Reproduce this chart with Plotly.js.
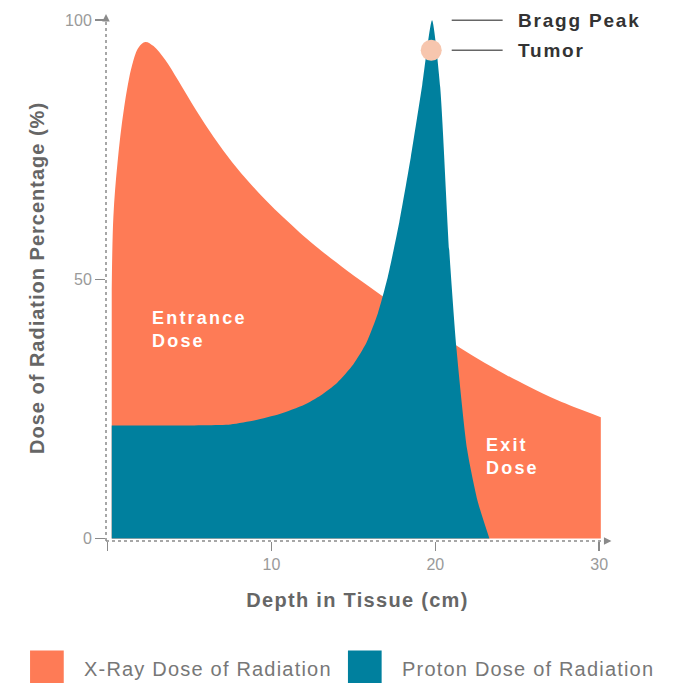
<!DOCTYPE html>
<html>
<head>
<meta charset="utf-8">
<script src="https://cdn.plot.ly/plotly-3.0.1.min.js"></script>
<style>
html,body{margin:0;padding:0;background:#fff;}
#chart{width:673px;height:683px;}
#chart .xtitle{letter-spacing:1.3px;}
#chart .ytitle{letter-spacing:1.0px;}
#chart g.annotation[data-index="3"] text,
#chart g.annotation[data-index="5"] text{letter-spacing:1.8px;}
#chart g.annotation[data-index="6"] text,
#chart g.annotation[data-index="7"] text{letter-spacing:2.2px;}
#chart g.annotation[data-index="8"] text,
#chart g.annotation[data-index="9"] text{letter-spacing:1.2px;}
</style>
</head>
<body>
<div id="chart"></div>
<script>
// Depth in tissue (cm) and dose (%)
const xrayDepth = [0.25, 0.35, 0.6, 1.0, 1.5, 1.9, 2.3, 2.8, 3.5, 4.3, 5.4, 6.5, 7.6, 8.7, 9.7, 10.7, 11.7, 12.7, 14.6, 16.4, 18.0, 19.8, 21.5, 23.0, 24.3, 25.7, 27.5, 30.1];
const xrayDose  = [48, 62, 72.4, 83, 91.4, 94.8, 95.8, 95, 92.4, 88.4, 82.6, 77.3, 72.6, 68.5, 65.1, 62.0, 59.1, 56.4, 51.7, 47.6, 44.1, 40.3, 36.8, 33.9, 31.6, 29.3, 26.6, 23.4];

const protonDepth = [0.25, 4, 7.5, 9.0, 10.5, 12.0, 13.0, 14.0, 15.0, 15.8, 16.5, 17.1, 17.8, 18.5, 19.2, 19.8, 20.3, 20.85, 21.3, 21.95, 22.6, 23.3];
const protonDose  = [21.8, 21.8, 22.0, 22.8, 24.0, 25.8, 27.6, 30.0, 33.6, 37.8, 43.5, 50.5, 61, 73.5, 87.5, 100, 87, 55.6, 36.3, 17, 7, 0];

const tumorDepth = [19.75];
const tumorDose = [94.2];

const xTicks = [0, 10, 20, 30];
const xTickText = ['', '10', '20', '30'];
const yTicks = [0, 50, 100];

const seriesNames = ['X-Ray Dose of Radiation', 'Proton Dose of Radiation'];
const orange = '#FE7B56';
const teal = '#00809E';
const FONT = 'Liberation Sans, Arial, Helvetica, sans-serif';

// Bragg peak from data
let pk = 0;
protonDose.forEach((v, i) => { if (v > protonDose[pk]) pk = i; });
const peakX = protonDepth[pk], peakY = protonDose[pk];

const traces = [
  {x: xrayDepth, y: xrayDose, type: 'scatter', mode: 'lines', fill: 'tozeroy',
   fillcolor: orange, line: {color: orange, width: 0, shape: 'spline', smoothing: 1},
   name: seriesNames[0], showlegend: false, hoverinfo: 'skip'},
  {x: protonDepth, y: protonDose, type: 'scatter', mode: 'lines', fill: 'tozeroy',
   fillcolor: teal, line: {color: teal, width: 0, shape: 'spline', smoothing: 0.6},
   name: seriesNames[1], showlegend: false, hoverinfo: 'skip'},
  {x: tumorDepth, y: tumorDose, type: 'scatter', mode: 'markers',
   marker: {size: 21, color: '#F7C6AE'}, name: 'Tumor', showlegend: false, hoverinfo: 'skip'}
];

const gray = '#8a8a8a';
const layout = {
  width: 673, height: 683,
  margin: {l: 106, r: 64, t: 15, b: 142},
  paper_bgcolor: '#fff', plot_bgcolor: '#fff',
  font: {family: FONT},
  showlegend: false,
  xaxis: {
    range: [-0.1, 30.6], showgrid: false, zeroline: false, showline: false,
    tickvals: xTicks, ticktext: xTickText, ticks: 'outside', ticklen: 9, tickwidth: 1.5, tickcolor: gray,
    tickfont: {size: 16, color: '#9a9a9a', family: FONT}, ticklabelstandoff: 0,
    title: {text: 'Depth in Tissue (cm)', font: {size: 20, color: '#666', family: FONT, weight: 'bold'}, standoff: 20},
    fixedrange: true
  },
  yaxis: {
    range: [-0.5, 101], showgrid: false, zeroline: false, showline: false,
    tickvals: yTicks, ticks: 'outside', ticklen: 10, tickwidth: 1.5, tickcolor: gray,
    tickfont: {size: 16, color: '#9a9a9a', family: FONT},
    title: {text: 'Dose of Radiation Percentage (%)', font: {size: 20, color: '#666', family: FONT, weight: 'bold'}, standoff: 15},
    fixedrange: true
  },
  shapes: [
    {type: 'line', xref: 'paper', yref: 'paper', x0: 0, x1: 0, y0: 0, y1: 1, line: {color: gray, width: 1.5, dash: 'dot'}, layer: 'below'},
    {type: 'line', xref: 'paper', yref: 'paper', x0: 0, x1: 0.995, y0: 0, y1: 0, line: {color: gray, width: 1.5, dash: 'dot'}, layer: 'above'},
    // legend swatches
    {type: 'rect', xref: 'paper', yref: 'paper', x0: -0.151, x1: -0.084, y0: -0.208, y1: -0.29, fillcolor: orange, line: {width: 0}},
    {type: 'rect', xref: 'paper', yref: 'paper', x0: 0.481, x1: 0.548, y0: -0.208, y1: -0.29, fillcolor: teal, line: {width: 0}}
  ],
  annotations: [
    // axis arrowheads
    {x: -0.1, y: 101.2, ax: -0.1, ay: 99.5, xref: 'x', yref: 'y', axref: 'x', ayref: 'y', text: '', showarrow: true, arrowhead: 2, arrowsize: 1, arrowwidth: 1.5, arrowcolor: gray},
    {x: 30.75, y: -0.5, ax: 30.2, ay: -0.5, xref: 'x', yref: 'y', axref: 'x', ayref: 'y', text: '', showarrow: true, arrowhead: 2, arrowsize: 1, arrowwidth: 1.5, arrowcolor: gray},
    // Bragg peak / tumor callouts
    {x: peakX + 1.2, y: peakY, ax: peakX + 4.4, ay: peakY, xref: 'x', yref: 'y', axref: 'x', ayref: 'y', text: '', showarrow: true, arrowhead: 0, arrowwidth: 1.5, arrowcolor: '#666'},
    {x: peakX + 5.1, y: peakY, xref: 'x', yref: 'y', xanchor: 'left', yanchor: 'middle', align: 'left', text: 'Bragg Peak', showarrow: false, font: {size: 19, color: '#333', family: FONT, weight: 'bold'}},
    {x: tumorDepth[0] + 1.25, y: tumorDose[0], ax: tumorDepth[0] + 4.45, ay: tumorDose[0], xref: 'x', yref: 'y', axref: 'x', ayref: 'y', text: '', showarrow: true, arrowhead: 0, arrowwidth: 1.5, arrowcolor: '#666'},
    {x: peakX + 5.1, y: tumorDose[0], xref: 'x', yref: 'y', xanchor: 'left', yanchor: 'middle', align: 'left', text: 'Tumor', showarrow: false, font: {size: 19, color: '#333', family: FONT, weight: 'bold'}},
    // region labels
    {x: 2.6, y: 40.3, xref: 'x', yref: 'y', xanchor: 'left', yanchor: 'middle', align: 'left', text: 'Entrance<br>Dose', showarrow: false, font: {size: 18, color: '#fff', family: FONT, weight: 'bold'}},
    {x: 23.0, y: 15.8, xref: 'x', yref: 'y', xanchor: 'left', yanchor: 'middle', align: 'left', text: 'Exit<br>Dose', showarrow: false, font: {size: 18, color: '#fff', family: FONT, weight: 'bold'}},
    // legend labels
    {x: -0.048, y: -0.243, xref: 'paper', yref: 'paper', xanchor: 'left', yanchor: 'middle', align: 'left', text: seriesNames[0], showarrow: false, font: {size: 20, color: '#777', family: FONT}},
    {x: 0.584, y: -0.243, xref: 'paper', yref: 'paper', xanchor: 'left', yanchor: 'middle', align: 'left', text: seriesNames[1], showarrow: false, font: {size: 20, color: '#777', family: FONT}}
  ]
};

Plotly.newPlot('chart', traces, layout, {displayModeBar: false, staticPlot: true});
</script>
</body>
</html>
